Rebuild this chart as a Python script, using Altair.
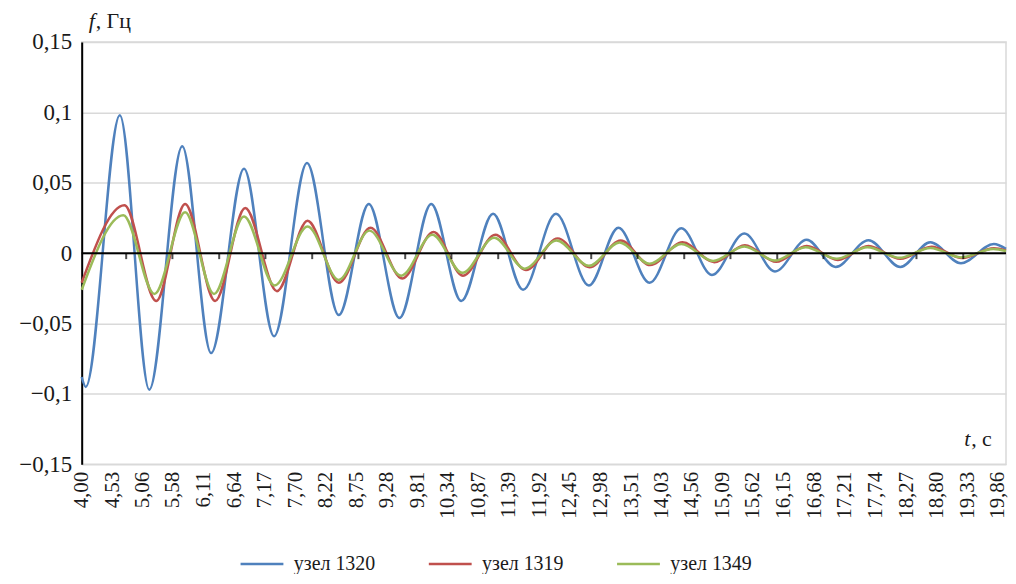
import altair as alt
import pandas as pd

# Series: time (s) of readable turning points and the frequency deviation (Hz)
t_1320 = [4.00, 4.07, 4.66, 5.17, 5.74, 6.24, 6.81, 7.33, 7.90, 8.45, 8.97, 9.50,
          10.05, 10.57, 11.12, 11.64, 12.21, 12.78, 13.29, 13.83, 14.38, 14.91,
          15.47, 16.00, 16.55, 17.05, 17.62, 18.17, 18.69, 19.22, 19.79, 20.00]
f_1320 = [-0.088, -0.095, 0.098, -0.097, 0.076, -0.071, 0.060, -0.059, 0.064, -0.044,
          0.035, -0.046, 0.035, -0.034, 0.028, -0.026, 0.028, -0.023, 0.018, -0.021,
          0.0177, -0.0155, 0.014, -0.013, 0.0095, -0.0098, 0.0092, -0.0098, 0.0078,
          -0.0072, 0.0065, 0.003]

t_1319 = [4.00, 4.74, 5.29, 5.79, 6.31, 6.83, 7.38, 7.91, 8.45, 9.00, 9.55, 10.09,
          10.60, 11.16, 11.69, 12.24, 12.79, 13.33, 13.84, 14.40, 14.95, 15.48,
          16.02, 16.55, 17.09, 17.62, 18.17, 18.71, 19.24, 19.79, 20.00]
f_1319 = [-0.021, 0.034, -0.034, 0.035, -0.034, 0.032, -0.027, 0.023, -0.021, 0.018,
          -0.018, 0.015, -0.016, 0.013, -0.012, 0.0105, -0.010, 0.009, -0.0085, 0.0077,
          -0.0064, 0.0056, -0.0062, 0.005, -0.0048, 0.005, -0.004, 0.0045, -0.0035,
          0.0035, 0.002]

t_1349 = [4.00, 4.72, 5.26, 5.79, 6.29, 6.81, 7.34, 7.91, 8.45, 8.98, 9.53, 10.07,
          10.59, 11.14, 11.67, 12.22, 12.78, 13.31, 13.83, 14.38, 14.93, 15.47,
          16.00, 16.53, 17.07, 17.60, 18.16, 18.69, 19.22, 19.78, 20.00]
f_1349 = [-0.026, 0.027, -0.029, 0.029, -0.029, 0.026, -0.023, 0.019, -0.019, 0.016,
          -0.016, 0.013, -0.014, 0.011, -0.011, 0.009, -0.009, 0.0075, -0.0075, 0.0065,
          -0.0055, 0.0048, -0.0052, 0.0042, -0.004, 0.0042, -0.0033, 0.0037, -0.003,
          0.003, 0.0015]

series_names = ["узел 1320", "узел 1319", "узел 1349"]
series_colors = ["#4F81BD", "#C0504D", "#9BBB59"]

x_label_values = [4.00, 4.53, 5.06, 5.58, 6.11, 6.64, 7.17, 7.70, 8.22, 8.75, 9.28,
                  9.81, 10.34, 10.87, 11.39, 11.92, 12.45, 12.98, 13.51, 14.03, 14.56,
                  15.09, 15.62, 16.15, 16.68, 17.21, 17.74, 18.27, 18.80, 19.33, 19.86]
y_label_values = [-0.15, -0.1, -0.05, 0, 0.05, 0.1, 0.15]
zero_tick_times = [4.77, 5.57, 6.38, 7.18, 7.99, 8.79, 9.60, 10.40, 11.21, 12.01,
                   12.82, 13.62, 14.43, 15.23, 16.04, 16.84, 17.65, 18.45, 19.26]

rows = []
for name, ts, fs in zip(series_names, [t_1320, t_1319, t_1349], [f_1320, f_1319, f_1349]):
    for t, f in zip(ts, fs):
        rows.append({"series": name, "t": t, "f": f})
df = pd.DataFrame(rows)

FONT = "'Liberation Serif', 'Times New Roman', serif"
TXT = "#1a1a1a"

x_scale = alt.Scale(domain=[4, 20], nice=False, zero=False)
y_scale = alt.Scale(domain=[-0.15, 0.15], nice=False)

x_axis = alt.Axis(values=x_label_values, tickCount=60, labelAngle=270, title=None,
                  domain=False, ticks=False, grid=False,
                  labelExpr="replace(format(datum.value, '.2f'), '.', ',')",
                  labelFont=FONT, labelFontSize=21, labelColor=TXT,
                  labelPadding=7, labelOverlap=False, labelBound=False,
                  labelFlush=False)
y_axis = alt.Axis(values=y_label_values, tickCount=20, title=None, ticks=False,
                  domain=True, domainColor="black", domainWidth=2,
                  grid=True, gridColor="#d9d9d9", gridWidth=1.5,
                  labelExpr="replace(format(datum.value, '.2~f'), '.', ',')",
                  labelFont=FONT, labelFontSize=23, labelColor=TXT,
                  labelPadding=10, labelOverlap=False)

lines = alt.Chart(df).mark_line(interpolate="monotone", strokeWidth=2.5).encode(
    x=alt.X("t:Q", scale=x_scale, axis=x_axis),
    y=alt.Y("f:Q", scale=y_scale, axis=y_axis),
    color=alt.Color("series:N",
                    scale=alt.Scale(domain=series_names, range=series_colors),
                    sort=series_names,
                    legend=alt.Legend(orient="none", legendX=158, legendY=501,
                                      direction="horizontal", title=None,
                                      symbolType="stroke", symbolSize=1849,
                                      symbolStrokeWidth=2.5, labelFont=FONT,
                                      labelFontSize=20, labelColor=TXT,
                                      labelOffset=9, columnPadding=48, padding=0)),
)

zero_line = alt.Chart(pd.DataFrame({"f": [0]})).mark_rule(
    color="black", strokeWidth=2).encode(y=alt.Y("f:Q", scale=y_scale, axis=y_axis))

zero_ticks = alt.Chart(pd.DataFrame({"t": zero_tick_times, "f": [0] * len(zero_tick_times)})).mark_tick(
    orient="vertical", size=6, thickness=2, color="black", yOffset=3).encode(
    x=alt.X("t:Q", scale=x_scale, axis=x_axis),
    y=alt.Y("f:Q", scale=y_scale, axis=y_axis))

one = pd.DataFrame({"a": [0]})
f_title = alt.Chart(one).mark_text(text="f", font=FONT, fontStyle="italic", fontSize=22,
                                   align="left", baseline="middle", color=TXT).encode(
    x=alt.value(7), y=alt.value(-21))
f_unit = alt.Chart(one).mark_text(text=", Гц", font=FONT, fontSize=22,
                                  align="left", baseline="middle", color=TXT).encode(
    x=alt.value(14), y=alt.value(-21))
t_title = alt.Chart(one).mark_text(text="t", font=FONT, fontStyle="italic", fontSize=22,
                                   align="left", baseline="middle", color=TXT).encode(
    x=alt.value(886), y=alt.value(399))
t_unit = alt.Chart(one).mark_text(text=", с", font=FONT, fontSize=22,
                                  align="left", baseline="middle", color=TXT).encode(
    x=alt.value(893), y=alt.value(399))

chart = alt.layer(lines, zero_line, zero_ticks, f_title, f_unit, t_title, t_unit).properties(
    width=928, height=424,
    autosize=alt.AutoSizeParams(type="none"),
    padding={"left": 74, "top": 33, "right": 2, "bottom": 109},
    background="white",
).configure_view(stroke="#d9d9d9", strokeWidth=1.5)

chart.save("out.html", embed_options={"renderer": "svg", "actions": False})
